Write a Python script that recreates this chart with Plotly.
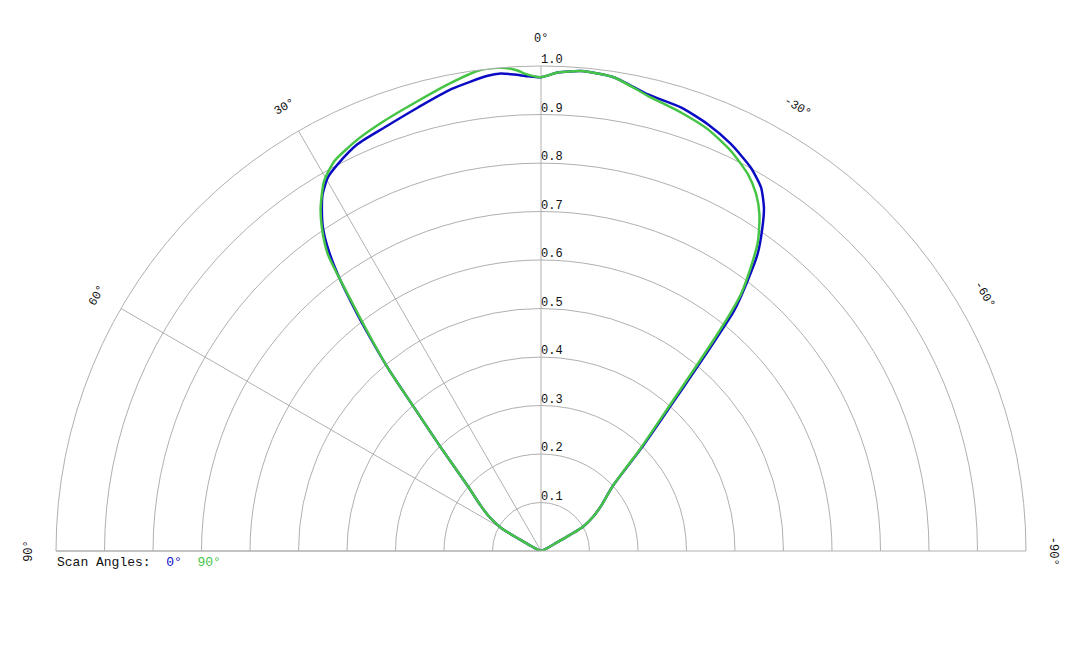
import math
import plotly.graph_objects as go

# ---- data (angle in degrees, positive = left; relative intensity) ----
theta_0 = [-90, -75, -66, -63, -61.5, -60, -56.5, -53.1, -47.9, -44.3, -41.8, -40.3, -39.4, -38.8,
           -37.4, -36.1, -34.4, -33.0, -31.2, -28.7, -25.0, -21.3, -17.5, -13.1, -8.8, -4.8, -2.0,
           0, 1.5, 3.2, 4.8, 6.4, 11.0, 15.5, 20.3, 24.3, 27.7, 29.7, 31.5, 32.8, 34.0, 35.1,
           36.3, 37.6, 38.5, 39.9, 41.5, 44.1, 48.4, 53.1, 56.5, 60, 61.5, 63, 66, 75, 90]
r_0 = [0.0, 0.004, 0.012, 0.025, 0.05, 0.1, 0.13, 0.155, 0.199, 0.296, 0.40, 0.50, 0.58, 0.635,
       0.701, 0.758, 0.808, 0.844, 0.876, 0.901, 0.926, 0.945, 0.959, 0.967, 0.988, 0.993, 0.987,
       0.977, 0.979, 0.984, 0.988, 0.986, 0.970, 0.949, 0.931, 0.920, 0.901, 0.887, 0.862, 0.834,
       0.804, 0.765, 0.708, 0.630, 0.575, 0.493, 0.394, 0.296, 0.202, 0.155, 0.128, 0.095, 0.05,
       0.025, 0.012, 0.004, 0.0]

theta_90 = [-90, -75, -66, -63, -61.5, -60, -56.5, -53.1, -47.8, -44.1, -41.5, -40.0, -39.2, -38.5,
            -37.9, -36.5, -35.0, -33.0, -31.1, -28.8, -25.4, -21.6, -17.7, -13.2, -8.8, -4.8, -2.0,
            0, 1.5, 3.0, 4.7, 7.1, 10.9, 15.3, 20.0, 24.0, 27.9, 30.4, 32.7, 34.1, 35.7, 37.2,
            38.3, 39.9, 41.5, 44.1, 48.4, 53.1, 56.5, 60, 61.5, 63, 66, 75, 90]
r_90 = [0.0, 0.004, 0.012, 0.025, 0.05, 0.1, 0.13, 0.155, 0.2, 0.296, 0.40, 0.50, 0.57, 0.63,
        0.671, 0.727, 0.780, 0.827, 0.859, 0.886, 0.913, 0.935, 0.949, 0.964, 0.988, 0.993, 0.987,
        0.977, 0.982, 0.993, 1.0, 1.0, 0.983, 0.962, 0.944, 0.929, 0.910, 0.884, 0.841, 0.806,
        0.753, 0.647, 0.58, 0.493, 0.394, 0.296, 0.202, 0.155, 0.128, 0.095, 0.05, 0.025, 0.012,
        0.004, 0.0]

radial_ticks = [0.1, 0.2, 0.3, 0.4, 0.5, 0.6, 0.7, 0.8, 0.9, 1.0]
radial_labels = ["0.1", "0.2", "0.3", "0.4", "0.5", "0.6", "0.7", "0.8", "0.9", "1.0"]
angle_ticks = [90, 60, 30, 0, -30, -60, -90]
angle_labels = ["90°", "60°", "30°", "0°", "-30°", "-60°", "-90°"]

BLUE = "#0b0bc4"
GREEN = "#45c445"
GRID = "#b0b0b0"
TEXT = "#111111"
FONT = "Liberation Mono, Courier New, monospace"

W, H = 1080, 648
ML, MR, MT, MB = 48, 62, 58, 105
PW, PH = W - ML - MR, H - MT - MB
RPX = PH  # pixel length of r = 1

fig = go.Figure()
fig.add_trace(go.Scatterpolar(theta=theta_0, r=r_0, mode="lines", name="0°",
                              line=dict(color=BLUE, width=2.5, shape="spline", smoothing=0.6)))
fig.add_trace(go.Scatterpolar(theta=theta_90, r=r_90, mode="lines", name="90°",
                              line=dict(color=GREEN, width=2.5, shape="spline", smoothing=0.6)))
# radial tick labels, placed just above each circle, right of the 0° line
fig.add_trace(go.Scatterpolar(theta=[0] * len(radial_ticks), r=radial_ticks,
                              mode="text", text=radial_labels, textposition="top right",
                              cliponaxis=False,
                              textfont=dict(family=FONT, size=12, color=TEXT),
                              hoverinfo="skip", showlegend=False))

annotations = []
for a, lab in zip(angle_ticks, angle_labels):
    R = 1.056 * RPX
    dx = -R * math.sin(math.radians(a))
    dy = R * math.cos(math.radians(a))
    annotations.append(dict(x=0.5 + dx / PW, y=dy / PH, xref="paper", yref="paper",
                            text=lab, showarrow=False, textangle=-a,
                            xanchor="center", yanchor="middle",
                            font=dict(family=FONT, size=12, color=TEXT)))
annotations.append(dict(x=-1 / PW, y=-11 / PH, xref="paper", yref="paper", xanchor="left", yanchor="middle",
                        showarrow=False,
                        text=("Scan Angles:  <span style='color:%s'>0°</span>  "
                              "<span style='color:%s'>90°</span>") % (BLUE, GREEN),
                        font=dict(family=FONT, size=13, color=TEXT)))

fig.update_layout(
    width=W, height=H,
    margin=dict(l=ML, r=MR, t=MT, b=MB),
    paper_bgcolor="white", plot_bgcolor="white",
    showlegend=False,
    annotations=annotations,
    polar=dict(
        domain=dict(x=[0, 1], y=[0, 1]),
        sector=[0, 180],
        bgcolor="white",
        radialaxis=dict(range=[0, 1], tickvals=radial_ticks, showticklabels=False, ticks="",
                        showgrid=True, gridcolor=GRID, gridwidth=1, showline=False, angle=90),
        angularaxis=dict(rotation=90, direction="counterclockwise", tickmode="array",
                         tickvals=[a % 360 for a in angle_ticks], showticklabels=False, ticks="",
                         showgrid=True, gridcolor=GRID, gridwidth=1,
                         showline=True, linecolor=GRID, linewidth=1),
    ),
)

fig.write_html("out.html")
